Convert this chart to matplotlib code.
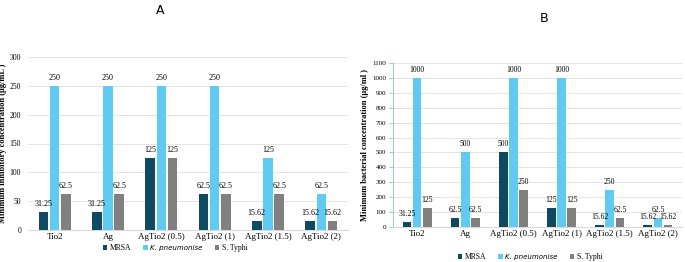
import matplotlib.pyplot as plt
import numpy as np

categories = ['Tio2', 'Ag', 'AgTio2 (0.5)', 'AgTio2 (1)', 'AgTio2 (1.5)', 'AgTio2 (2)']
series_names = ['MRSA', 'K. pneumonise', 'S. Typhi']

mic_mrsa = [31.25, 31.25, 125, 62.5, 15.62, 15.62]
mic_kpn = [250, 250, 250, 250, 125, 62.5]
mic_typhi = [62.5, 62.5, 125, 62.5, 62.5, 15.62]

mbc_mrsa = [31.25, 62.5, 500, 125, 15.62, 15.62]
mbc_kpn = [1000, 500, 1000, 1000, 250, 62.5]
mbc_typhi = [125, 62.5, 250, 125, 62.5, 15.62]

colors = ['#0f4a62', '#5fcbf3', '#808080']
serif = 'Liberation Serif'


def fmt(v):
    return ('%g' % v)


def draw(ax, series, ymax, step, ylabel, fs):
    x = np.arange(len(categories))
    w = 0.18
    offs = [-0.21, 0, 0.21]
    for vals, c, o, name in zip(series, colors, offs, series_names):
        bars = ax.bar(x + o, vals, w, color=c, label=name, zorder=3)
        for b, v in zip(bars, vals):
            ax.text(b.get_x() + b.get_width() / 2, v + ymax * 0.025, fmt(v),
                    ha='center', va='bottom', fontsize=fs, family=serif, zorder=4)
    ax.set_xlim(-0.5, len(categories) - 0.5)
    ax.set_ylim(0, ymax)
    ax.set_yticks(np.arange(0, ymax + 1, step))
    ax.set_xticks(x)
    ax.set_xticklabels(categories, family=serif, fontsize=6.5)
    for t in ax.get_yticklabels():
        t.set_family(serif)
        t.set_fontsize(5.5)
    ax.grid(axis='y', color='#e4e4e4', linewidth=0.7, zorder=0)
    for s in ['top', 'right', 'left']:
        ax.spines[s].set_visible(False)
    ax.spines['bottom'].set_color('#d9d9d9')
    ax.tick_params(axis='x', length=0, pad=2)
    ax.set_ylabel(ylabel, family=serif, fontweight='bold', fontsize=6, labelpad=2)


fig = plt.figure(figsize=(6.85, 2.62), dpi=100)

ax1 = fig.add_axes([28 / 685, 32 / 262, 320 / 685, 173 / 262])
draw(ax1, [mic_mrsa, mic_kpn, mic_typhi], 300, 50,
     'Minimum inhibitory concentration (µg/mL )', 5.8)
ax1.tick_params(axis='y', length=0, pad=5)

ax2 = fig.add_axes([393 / 685, 35 / 262, 289 / 685, 164 / 262])
draw(ax2, [mbc_mrsa, mbc_kpn, mbc_typhi], 1100, 100,
     'Minimum bacterial concentration (µg/ml )', 5.5)
ax2.spines['left'].set_visible(True)
ax2.spines['left'].set_color('#a9c4d2')
ax2.tick_params(axis='y', length=3, color='#a9c4d2', pad=2)
for t in ax2.get_yticklabels():
    t.set_fontsize(5)

fig.text(160 / 685, 1 - 10 / 262, 'A', ha='center', va='center', fontsize=9)
fig.text(544 / 685, 1 - 18 / 262, 'B', ha='center', va='center', fontsize=9)


def legend(ax, xc, yc):
    h, l = ax.get_legend_handles_labels()
    leg = fig.legend(h, l, loc='center', bbox_to_anchor=(xc / 685, 1 - yc / 262),
                     ncol=3, frameon=False, fontsize=5.5, handlelength=0.6,
                     handleheight=0.6, handletextpad=0.3, columnspacing=1.6)
    for i, t in enumerate(leg.get_texts()):
        if i == 1:
            t.set_family('DejaVu Sans')
            t.set_style('italic')
            t.set_fontsize(5)
        else:
            t.set_family(serif)


legend(ax1, 175, 248)
legend(ax2, 530, 257)

fig.savefig('out.png', dpi=100)
